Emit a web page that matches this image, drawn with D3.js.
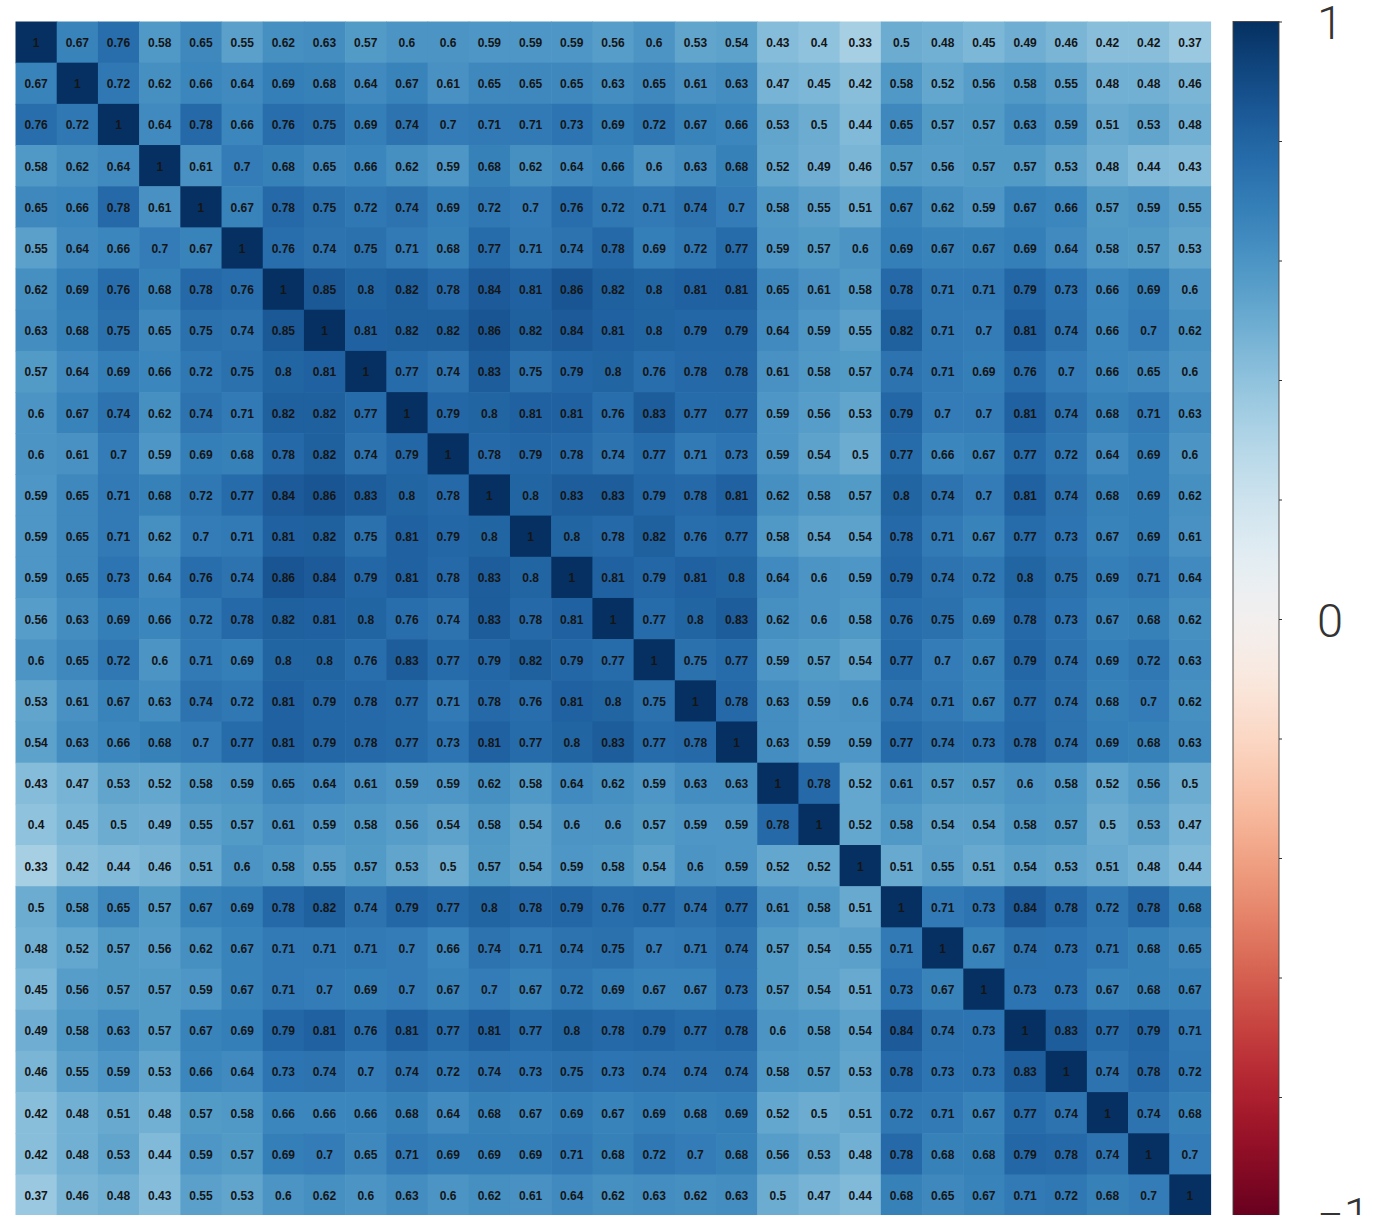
<!DOCTYPE html>
<html>
<head>
<meta charset="utf-8">
<script src="https://cdn.jsdelivr.net/npm/d3@7"></script>
<style>
  html, body { margin: 0; padding: 0; background: #fff; }
  svg { display: block; }
</style>
</head>
<body>
<svg id="chart" width="1376" height="1215"></svg>
<script>
// ---- data ----
const variables = ["V1","V2","V3","V4","V5","V6","V7","V8","V9","V10","V11","V12","V13","V14","V15",
  "V16","V17","V18","V19","V20","V21","V22","V23","V24","V25","V26","V27","V28","V29"];

const r01 = [1,0.67,0.76,0.58,0.65,0.55,0.62,0.63,0.57,0.6,0.6,0.59,0.59,0.59,0.56,0.6,0.53,0.54,0.43,0.4,0.33,0.5,0.48,0.45,0.49,0.46,0.42,0.42,0.37];
const r02 = [0.67,1,0.72,0.62,0.66,0.64,0.69,0.68,0.64,0.67,0.61,0.65,0.65,0.65,0.63,0.65,0.61,0.63,0.47,0.45,0.42,0.58,0.52,0.56,0.58,0.55,0.48,0.48,0.46];
const r03 = [0.76,0.72,1,0.64,0.78,0.66,0.76,0.75,0.69,0.74,0.7,0.71,0.71,0.73,0.69,0.72,0.67,0.66,0.53,0.5,0.44,0.65,0.57,0.57,0.63,0.59,0.51,0.53,0.48];
const r04 = [0.58,0.62,0.64,1,0.61,0.7,0.68,0.65,0.66,0.62,0.59,0.68,0.62,0.64,0.66,0.6,0.63,0.68,0.52,0.49,0.46,0.57,0.56,0.57,0.57,0.53,0.48,0.44,0.43];
const r05 = [0.65,0.66,0.78,0.61,1,0.67,0.78,0.75,0.72,0.74,0.69,0.72,0.7,0.76,0.72,0.71,0.74,0.7,0.58,0.55,0.51,0.67,0.62,0.59,0.67,0.66,0.57,0.59,0.55];
const r06 = [0.55,0.64,0.66,0.7,0.67,1,0.76,0.74,0.75,0.71,0.68,0.77,0.71,0.74,0.78,0.69,0.72,0.77,0.59,0.57,0.6,0.69,0.67,0.67,0.69,0.64,0.58,0.57,0.53];
const r07 = [0.62,0.69,0.76,0.68,0.78,0.76,1,0.85,0.8,0.82,0.78,0.84,0.81,0.86,0.82,0.8,0.81,0.81,0.65,0.61,0.58,0.78,0.71,0.71,0.79,0.73,0.66,0.69,0.6];
const r08 = [0.63,0.68,0.75,0.65,0.75,0.74,0.85,1,0.81,0.82,0.82,0.86,0.82,0.84,0.81,0.8,0.79,0.79,0.64,0.59,0.55,0.82,0.71,0.7,0.81,0.74,0.66,0.7,0.62];
const r09 = [0.57,0.64,0.69,0.66,0.72,0.75,0.8,0.81,1,0.77,0.74,0.83,0.75,0.79,0.8,0.76,0.78,0.78,0.61,0.58,0.57,0.74,0.71,0.69,0.76,0.7,0.66,0.65,0.6];
const r10 = [0.6,0.67,0.74,0.62,0.74,0.71,0.82,0.82,0.77,1,0.79,0.8,0.81,0.81,0.76,0.83,0.77,0.77,0.59,0.56,0.53,0.79,0.7,0.7,0.81,0.74,0.68,0.71,0.63];
const r11 = [0.6,0.61,0.7,0.59,0.69,0.68,0.78,0.82,0.74,0.79,1,0.78,0.79,0.78,0.74,0.77,0.71,0.73,0.59,0.54,0.5,0.77,0.66,0.67,0.77,0.72,0.64,0.69,0.6];
const r12 = [0.59,0.65,0.71,0.68,0.72,0.77,0.84,0.86,0.83,0.8,0.78,1,0.8,0.83,0.83,0.79,0.78,0.81,0.62,0.58,0.57,0.8,0.74,0.7,0.81,0.74,0.68,0.69,0.62];
const r13 = [0.59,0.65,0.71,0.62,0.7,0.71,0.81,0.82,0.75,0.81,0.79,0.8,1,0.8,0.78,0.82,0.76,0.77,0.58,0.54,0.54,0.78,0.71,0.67,0.77,0.73,0.67,0.69,0.61];
const r14 = [0.59,0.65,0.73,0.64,0.76,0.74,0.86,0.84,0.79,0.81,0.78,0.83,0.8,1,0.81,0.79,0.81,0.8,0.64,0.6,0.59,0.79,0.74,0.72,0.8,0.75,0.69,0.71,0.64];
const r15 = [0.56,0.63,0.69,0.66,0.72,0.78,0.82,0.81,0.8,0.76,0.74,0.83,0.78,0.81,1,0.77,0.8,0.83,0.62,0.6,0.58,0.76,0.75,0.69,0.78,0.73,0.67,0.68,0.62];
const r16 = [0.6,0.65,0.72,0.6,0.71,0.69,0.8,0.8,0.76,0.83,0.77,0.79,0.82,0.79,0.77,1,0.75,0.77,0.59,0.57,0.54,0.77,0.7,0.67,0.79,0.74,0.69,0.72,0.63];
const r17 = [0.53,0.61,0.67,0.63,0.74,0.72,0.81,0.79,0.78,0.77,0.71,0.78,0.76,0.81,0.8,0.75,1,0.78,0.63,0.59,0.6,0.74,0.71,0.67,0.77,0.74,0.68,0.7,0.62];
const r18 = [0.54,0.63,0.66,0.68,0.7,0.77,0.81,0.79,0.78,0.77,0.73,0.81,0.77,0.8,0.83,0.77,0.78,1,0.63,0.59,0.59,0.77,0.74,0.73,0.78,0.74,0.69,0.68,0.63];
const r19 = [0.43,0.47,0.53,0.52,0.58,0.59,0.65,0.64,0.61,0.59,0.59,0.62,0.58,0.64,0.62,0.59,0.63,0.63,1,0.78,0.52,0.61,0.57,0.57,0.6,0.58,0.52,0.56,0.5];
const r20 = [0.4,0.45,0.5,0.49,0.55,0.57,0.61,0.59,0.58,0.56,0.54,0.58,0.54,0.6,0.6,0.57,0.59,0.59,0.78,1,0.52,0.58,0.54,0.54,0.58,0.57,0.5,0.53,0.47];
const r21 = [0.33,0.42,0.44,0.46,0.51,0.6,0.58,0.55,0.57,0.53,0.5,0.57,0.54,0.59,0.58,0.54,0.6,0.59,0.52,0.52,1,0.51,0.55,0.51,0.54,0.53,0.51,0.48,0.44];
const r22 = [0.5,0.58,0.65,0.57,0.67,0.69,0.78,0.82,0.74,0.79,0.77,0.8,0.78,0.79,0.76,0.77,0.74,0.77,0.61,0.58,0.51,1,0.71,0.73,0.84,0.78,0.72,0.78,0.68];
const r23 = [0.48,0.52,0.57,0.56,0.62,0.67,0.71,0.71,0.71,0.7,0.66,0.74,0.71,0.74,0.75,0.7,0.71,0.74,0.57,0.54,0.55,0.71,1,0.67,0.74,0.73,0.71,0.68,0.65];
const r24 = [0.45,0.56,0.57,0.57,0.59,0.67,0.71,0.7,0.69,0.7,0.67,0.7,0.67,0.72,0.69,0.67,0.67,0.73,0.57,0.54,0.51,0.73,0.67,1,0.73,0.73,0.67,0.68,0.67];
const r25 = [0.49,0.58,0.63,0.57,0.67,0.69,0.79,0.81,0.76,0.81,0.77,0.81,0.77,0.8,0.78,0.79,0.77,0.78,0.6,0.58,0.54,0.84,0.74,0.73,1,0.83,0.77,0.79,0.71];
const r26 = [0.46,0.55,0.59,0.53,0.66,0.64,0.73,0.74,0.7,0.74,0.72,0.74,0.73,0.75,0.73,0.74,0.74,0.74,0.58,0.57,0.53,0.78,0.73,0.73,0.83,1,0.74,0.78,0.72];
const r27 = [0.42,0.48,0.51,0.48,0.57,0.58,0.66,0.66,0.66,0.68,0.64,0.68,0.67,0.69,0.67,0.69,0.68,0.69,0.52,0.5,0.51,0.72,0.71,0.67,0.77,0.74,1,0.74,0.68];
const r28 = [0.42,0.48,0.53,0.44,0.59,0.57,0.69,0.7,0.65,0.71,0.69,0.69,0.69,0.71,0.68,0.72,0.7,0.68,0.56,0.53,0.48,0.78,0.68,0.68,0.79,0.78,0.74,1,0.7];
const r29 = [0.37,0.46,0.48,0.43,0.55,0.53,0.6,0.62,0.6,0.63,0.6,0.62,0.61,0.64,0.62,0.63,0.62,0.63,0.5,0.47,0.44,0.68,0.65,0.67,0.71,0.72,0.68,0.7,1];

const rows = [r01,r02,r03,r04,r05,r06,r07,r08,r09,r10,r11,r12,r13,r14,r15,r16,r17,r18,r19,r20,r21,r22,r23,r24,r25,r26,r27,r28,r29];

const colorbarTicks = [-1,-0.8,-0.6,-0.4,-0.2,0,0.2,0.4,0.6,0.8,1];
const colorbarLabels = [-1,0,1];

// ---- layout ----
const svg = d3.select("#chart");
const hm = {left: 15.5, right: 1210.5, top: 21.5, bottom: 1215.6};
const cb = {left: 1233, right: 1279, top: 21.5, bottom: 1216.5};

const x = d3.scaleBand().domain(variables).range([hm.left, hm.right]).padding(0);
const y = d3.scaleBand().domain(variables).range([hm.top, hm.bottom]).padding(0);
const color = d3.scaleSequential(d3.interpolateRdBu).domain([-1, 1]);

const cells = [];
rows.forEach((row, i) => row.forEach((v, j) => cells.push({r: variables[i], c: variables[j], v})));

const g = svg.append("g");
g.selectAll("rect.cell").data(cells).join("rect")
  .attr("class", "cell")
  .attr("x", d => x(d.c))
  .attr("y", d => y(d.r))
  .attr("width", x.bandwidth() + 0.6)
  .attr("height", y.bandwidth() + 0.6)
  .attr("fill", d => color(d.v));

g.selectAll("text.val").data(cells).join("text")
  .attr("class", "val")
  .attr("x", d => x(d.c) + x.bandwidth() / 2)
  .attr("y", d => y(d.r) + y.bandwidth() / 2 + 1)
  .attr("text-anchor", "middle")
  .attr("dominant-baseline", "central")
  .attr("font-family", "'Liberation Sans', Arial, sans-serif")
  .attr("font-weight", "bold")
  .attr("font-size", 12)
  .attr("fill", "#151515")
  .text(d => String(d.v));

// ---- colorbar ----
const defs = svg.append("defs");
const grad = defs.append("linearGradient").attr("id", "cbgrad")
  .attr("x1", 0).attr("y1", 0).attr("x2", 0).attr("y2", 1);
d3.range(0, 1.0001, 0.02).forEach(t => {
  grad.append("stop").attr("offset", t).attr("stop-color", color(1 - 2 * t));
});

const cbScale = d3.scaleLinear().domain([1, -1]).range([cb.top, cb.bottom]);

svg.append("rect")
  .attr("x", cb.left).attr("y", cb.top)
  .attr("width", cb.right - cb.left).attr("height", cb.bottom - cb.top)
  .attr("fill", "url(#cbgrad)")
  .attr("stroke", "#444").attr("stroke-width", 0.9);

const cbAxis = d3.axisRight(cbScale)
  .tickValues(colorbarTicks)
  .tickSize(3)
  .tickFormat("");
const axG = svg.append("g").attr("transform", `translate(${cb.right},0)`).call(cbAxis);
axG.select(".domain").remove();
axG.selectAll(".tick line").attr("stroke", "#333");

svg.selectAll("text.cblab").data(colorbarLabels).join("text")
  .attr("class", "cblab")
  .attr("x", 1317)
  .attr("y", d => cbScale(d) + (d < 0 ? -2 : 1))
  .attr("dominant-baseline", "central")
  .attr("font-family", "Roboto, 'DejaVu Sans', sans-serif")
  .attr("font-weight", 300)
  .attr("font-size", 47)
  .attr("fill", "#333")
  .text(d => d < 0 ? "\u2212" + Math.abs(d) : String(d));
</script>
</body>
</html>
